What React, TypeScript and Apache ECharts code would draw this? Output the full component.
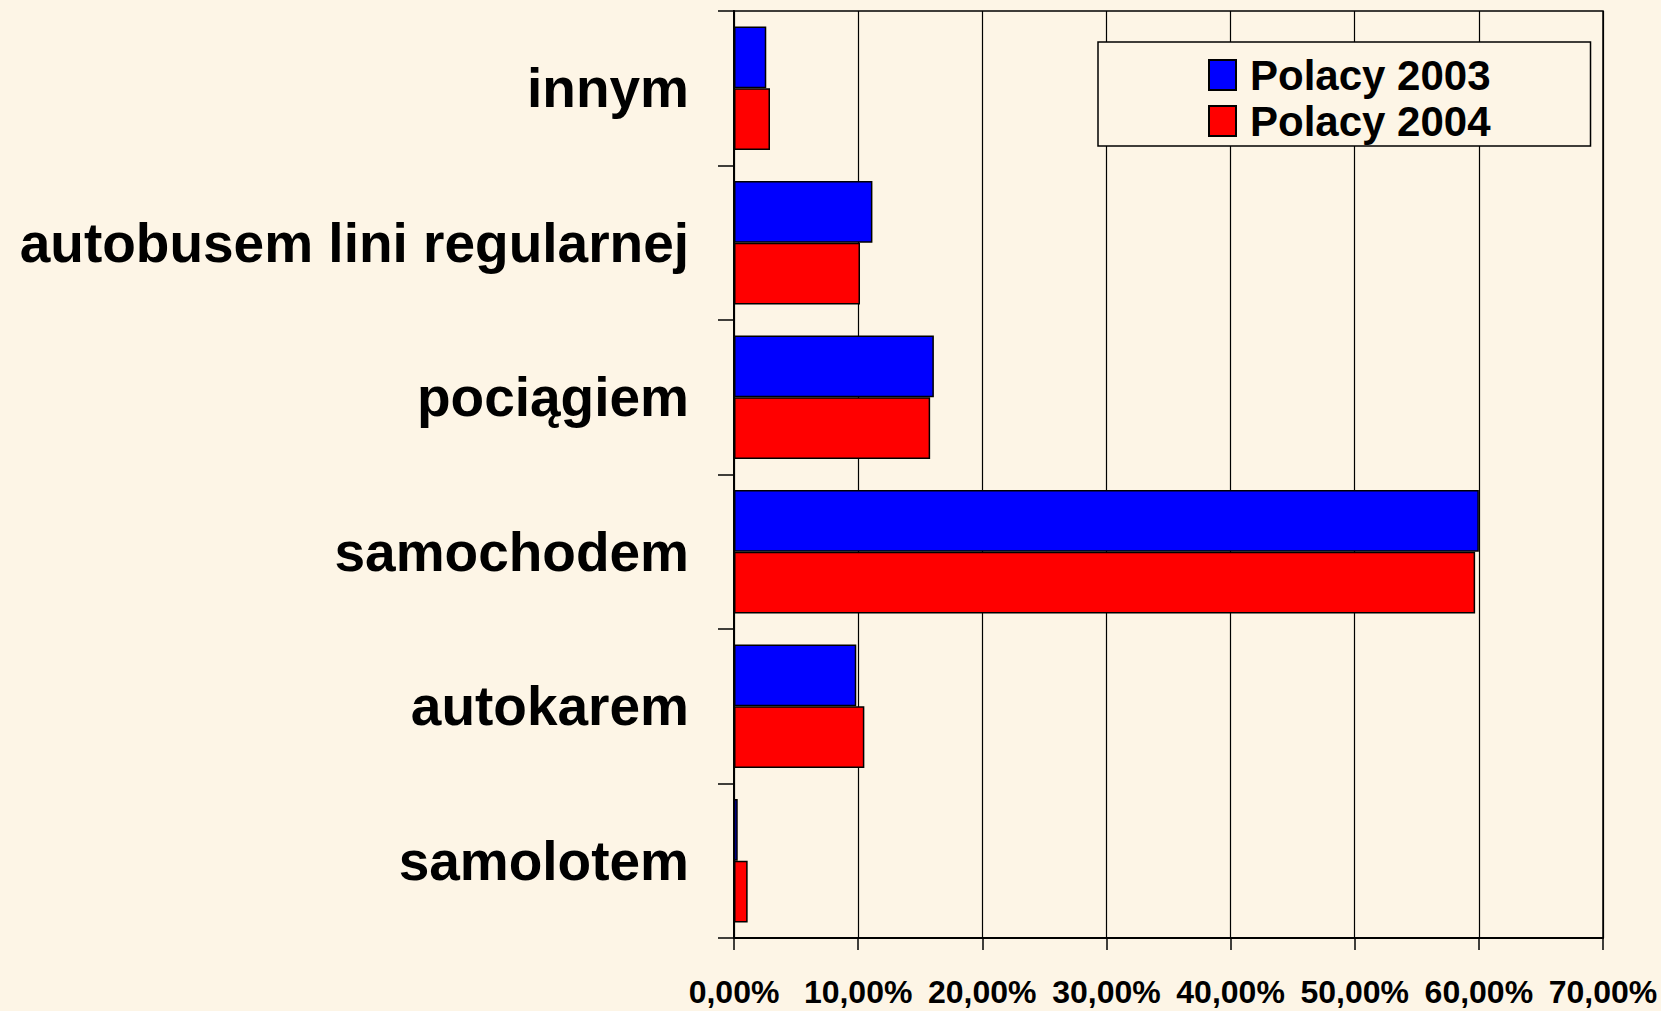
import React, { useEffect, useRef } from "react";
import * as echarts from "echarts";

const categories = [
  "innym",
  "autobusem lini regularnej",
  "pociągiem",
  "samochodem",
  "autokarem",
  "samolotem",
];
const seriesNames = ["Polacy 2003", "Polacy 2004"];
const values2003 = [2.6, 11.15, 16.1, 60.0, 9.85, 0.3];
const values2004 = [2.9, 10.15, 15.8, 59.7, 10.5, 1.1];
const xTicks = [0, 10, 20, 30, 40, 50, 60, 70];

const FONT = "'Liberation Sans', Arial, Helvetica, sans-serif";
const BG = "#FDF5E6";

export default function App() {
  const ref = useRef<HTMLDivElement>(null);
  useEffect(() => {
    if (!ref.current) return;
    const chart = echarts.init(ref.current, null, { renderer: "svg" });
    chart.setOption({
      animation: false,
      backgroundColor: BG,
      grid: {
        left: 734,
        top: 11,
        right: 58,
        bottom: 73,
        show: true,
        borderColor: "#000",
        borderWidth: 1.5,
        containLabel: false,
      },
      legend: {
        orient: "vertical",
        left: 1098,
        top: 42,
        data: seriesNames,
        icon: "rect",
        itemWidth: 27,
        itemHeight: 30,
        itemGap: 4,
        padding: [12, 100, 4, 110],
        borderColor: "#000",
        borderWidth: 1.5,
        backgroundColor: BG,
        textStyle: {
          fontFamily: FONT,
          fontWeight: "bold",
          fontSize: 42,
          color: "#000",
          padding: [0, 0, 0, 9],
        },
      },
      xAxis: {
        type: "value",
        min: xTicks[0],
        max: xTicks[xTicks.length - 1],
        interval: 10,
        axisLine: { show: true, lineStyle: { color: "#000", width: 2 } },
        axisTick: { show: true, length: 12, lineStyle: { color: "#000", width: 1.5 } },
        splitLine: { show: true, lineStyle: { color: "#000", width: 1.2 } },
        axisLabel: {
          margin: 38,
          fontFamily: FONT,
          fontWeight: "bold",
          fontSize: 32,
          color: "#000",
          formatter: (v: number) => v.toFixed(2).replace(".", ",") + "%",
        },
      },
      yAxis: {
        type: "category",
        inverse: true,
        data: categories,
        axisLine: { show: true, lineStyle: { color: "#000", width: 2 } },
        axisTick: { show: true, length: 16, lineStyle: { color: "#000", width: 1.5 } },
        axisLabel: {
          margin: 45,
          fontFamily: FONT,
          fontWeight: "bold",
          fontSize: 55,
          color: "#000",
        },
      },
      series: [
        {
          name: seriesNames[0],
          type: "bar",
          data: values2003,
          barGap: "0%",
          barCategoryGap: "20%",
          itemStyle: { color: "#0000FF", borderColor: "#000", borderWidth: 1.5 },
        },
        {
          name: seriesNames[1],
          type: "bar",
          data: values2004,
          barGap: "0%",
          barCategoryGap: "20%",
          itemStyle: { color: "#FF0000", borderColor: "#000", borderWidth: 1.5 },
        },
      ],
    });
    return () => chart.dispose();
  }, []);
  return (
    <div
      ref={ref}
      style={{ position: "fixed", left: 0, top: 0, width: 1661, height: 1011, background: BG }}
    />
  );
}
